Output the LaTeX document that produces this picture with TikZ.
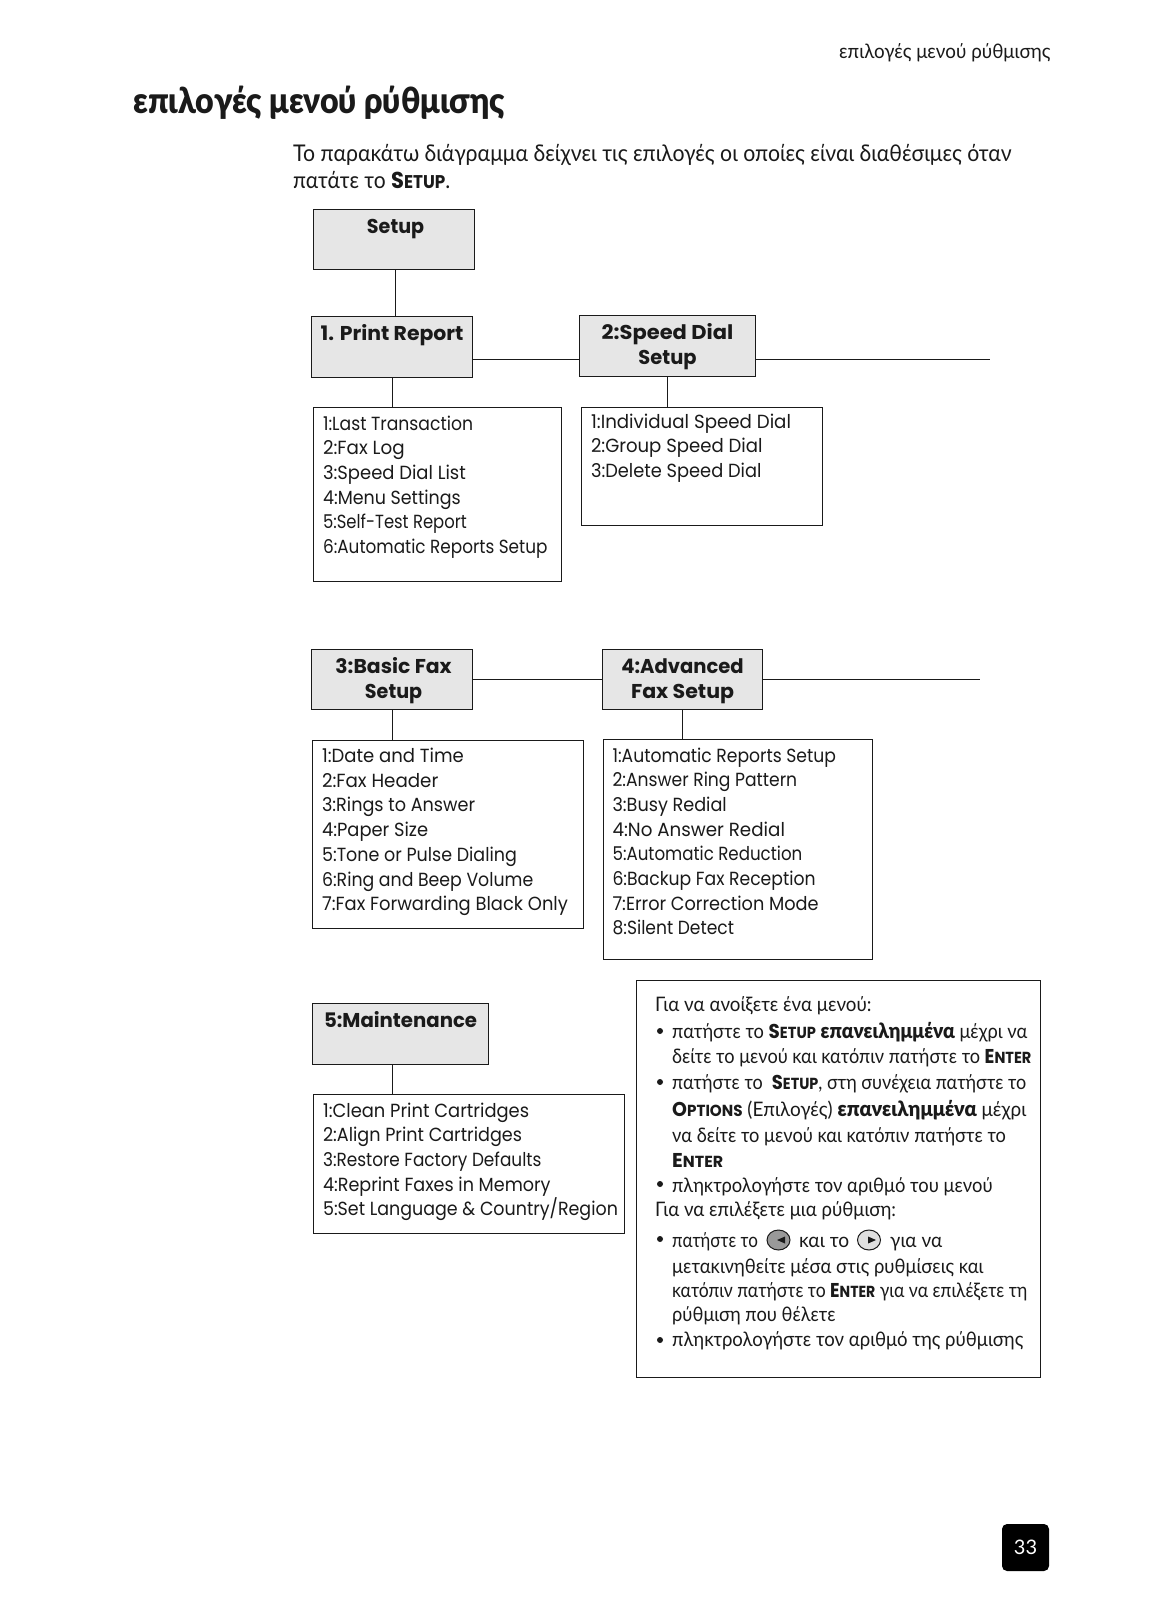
\documentclass[tikz,border=0pt]{standalone}
\usepackage{fontspec}
\setmainfont{Poppins}[FakeStretch=0.92]
\newfontfamily\gr{Lato}[BoldFont={Lato Black}]
\newfontfamily\scf{Poppins}
\usetikzlibrary{shapes.geometric}
\definecolor{boxgray}{HTML}{E6E6E6}
\definecolor{ink}{HTML}{1A1A1A}
\makeatletter
\newcommand{\SC}[2]{{\scf\bfseries #1\fontsize{\dimexpr0.8\dimexpr\f@size pt\relax\relax}{1em}\selectfont #2}}
\newcommand{\BG}[1]{{\bfseries\fontsize{\dimexpr1.06\dimexpr\f@size pt\relax\relax}{1em}\selectfont #1}}
\makeatother
% widths are measured on the 1133-wide view, hence the factor
\newcommand{\fitw}[2]{\resizebox{\dimexpr #1pt*10203/10000\relax}{\height}{#2}}
\newcommand{\hdnode}[6]{\node[headbox] (#1) at (#2,#3) {\parbox[c][#5pt][t]{#4pt}{\centering\fontsize{20}{24.6}\selectfont\bfseries\rule{0pt}{24pt}#6\par}};}
\newcommand{\lsnode}[7][22.5pt]{\node[listbox] (#2) at (#3,#4) {\parbox[c][#6pt][t]{#5pt}{\raggedright\leftskip=9.5pt\fontsize{19}{24.7}\selectfont\rule{0pt}{#1}#7\par}};}
\newcommand{\grline}[6][]{\node[grtext,#1] (#2) at (#3,#4) {\fitw{#5}{#6}};}
\tikzset{
  headbox/.style={draw=ink,fill=boxgray,line width=1.1pt,inner sep=0pt,anchor=north west,text=ink},
  listbox/.style={draw=ink,fill=white,line width=1.1pt,inner sep=0pt,anchor=north west,text=ink},
  link/.style={draw=ink,line width=1.1pt},
  grtext/.style={anchor=base west,inner sep=0pt,text=ink,font=\gr\fontsize{20}{24}\selectfont},
  titletext/.style={grtext,font=\gr\bfseries\fontsize{36}{40}\selectfont},
  introtext/.style={grtext,font=\gr\fontsize{23}{27}\selectfont},
  bulletdot/.style={circle,fill=ink,inner sep=0pt,minimum size=6pt},
  navbtn/.style={ellipse,draw=ink,line width=1pt,inner sep=0pt,minimum width=23pt,minimum height=20pt},
}
\begin{document}
\begin{tikzpicture}[x=1pt,y=-1pt]
\useasboundingbox (0,0) rectangle (1156,1600);
\fill[white] (0,0) rectangle (1156,1600);

\grline{hdr}{839}{59}{207}{επιλογές μενού ρύθμισης}
\grline[titletext]{title}{133}{114}{364}{επιλογές μενού ρύθμισης}
\grline[introtext]{intro1}{293}{161}{704}{Το παρακάτω διάγραμμα δείχνει τις επιλογές οι οποίες είναι διαθέσιμες όταν}
\grline[introtext]{intro2}{293}{188}{154}{πατάτε το \SC{S}{ETUP}.}

\hdnode{setup}{313}{209}{161}{60}{\hspace*{3pt}\fitw{56}{Setup}}
\hdnode{pr}{311}{316}{161}{60.5}{\fitw{140}{1. Print Report}}
\hdnode{sd}{579}{315}{176}{60.5}{\fitw{129}{2:Speed Dial}\\\fitw{57}{Setup}}
\hdnode{bf}{311}{649}{161}{60}{\hspace*{3pt}\fitw{114}{3:Basic Fax}\\\hspace*{3pt}\fitw{56}{Setup}}
\hdnode{af}{602}{649}{160}{60}{\fitw{120}{4:Advanced}\\\fitw{101}{Fax Setup}}
\hdnode{mt}{312}{1003}{176}{61}{\fitw{150}{5:Maintenance}}

\lsnode{l1}{313}{407}{248}{173.5}{\fitw{147}{1:Last Transaction}\\\fitw{80}{2:Fax Log}\\\fitw{140}{3:Speed Dial List}\\\fitw{135}{4:Menu Settings}\\\fitw{141}{5:Self-Test Report}\\\fitw{220}{6:Automatic Reports Setup}}
\lsnode[20.5pt]{l2}{581}{407}{240.5}{118}{\fitw{196}{1:Individual Speed Dial}\\\fitw{168}{2:Group Speed Dial}\\\fitw{167}{3:Delete Speed Dial}}
\lsnode{l3}{312}{739.5}{271}{188.5}{\fitw{139}{1:Date and Time}\\\fitw{114}{2:Fax Header}\\\fitw{150}{3:Rings to Answer}\\\fitw{104}{4:Paper Size}\\\fitw{191}{5:Tone or Pulse Dialing}\\\fitw{207}{6:Ring and Beep Volume}\\\fitw{241}{7:Fax Forwarding Black Only}}
\lsnode{l4}{602.5}{739}{269}{220}{\fitw{219}{1:Automatic Reports Setup}\\\fitw{181}{2:Answer Ring Pattern}\\\fitw{112}{3:Busy Redial}\\\fitw{169}{4:No Answer Redial}\\\fitw{186}{5:Automatic Reduction}\\\fitw{199}{6:Backup Fax Reception}\\\fitw{202}{7:Error Correction Mode}\\\fitw{119}{8:Silent Detect}}
\lsnode{l5}{313}{1094}{311}{138.5}{\fitw{202}{1:Clean Print Cartridges}\\\fitw{195}{2:Align Print Cartridges}\\\fitw{214}{3:Restore Factory Defaults}\\\fitw{223}{4:Reprint Faxes in Memory}\\\fitw{289}{5:Set Language \& Country/Region}}

\draw[link] ([xshift=1.5pt]setup.south) -- ([xshift=1.5pt]setup.south |- pr.north);
\draw[link] (pr.south) -- (pr.south |- l1.north);
\coordinate (sdend) at (990,359.5);
\draw[link] (sdend -| pr.east) -- (sdend -| sd.west);
\draw[link] (sdend -| sd.east) -- (sdend);
\draw[link] (sd.south) -- (sd.south |- l2.north);
\draw[link] (bf.south) -- (bf.south |- l3.north);
\coordinate (afend) at (980,679.5);
\draw[link] (afend -| bf.east) -- (afend -| af.west);
\draw[link] (afend -| af.east) -- (afend);
\draw[link] (af.south) -- (af.south |- l4.north);
\coordinate (mtx) at (392.5,1064);
\draw[link] (mtx) -- (mtx |- l5.north);

\node[draw=ink,fill=white,line width=1.1pt,minimum width=404pt,minimum height=397pt,inner sep=0pt,anchor=north west] (notes) at (636,980) {};

\grline{n1}{655}{1011}{212}{Για να ανοίξετε ένα μενού:}
\node[bulletdot] (b1) at (660,1031) {};
\grline{n2}{672}{1038}{348}{πατήστε το \SC{S}{ETUP} \BG{επανειλημμένα} μέχρι να}
\grline{n3}{672}{1063}{352}{δείτε το μενού και κατόπιν πατήστε το \SC{E}{NTER}}
\node[bulletdot] (b2) at (660,1082) {};
\grline{n4}{672}{1089}{347}{πατήστε το\ \ \SC{S}{ETUP}, στη συνέχεια πατήστε το}
\grline{n5}{672}{1116}{347}{\SC{O}{PTIONS} (Επιλογές) \BG{επανειλημμένα} μέχρι}
\grline{n6}{672}{1142}{327}{να δείτε το μενού και κατόπιν πατήστε το}
\grline{n7}{672}{1167}{50}{\SC{E}{NTER}}
\node[bulletdot] (b3) at (660,1184) {};
\grline{n8}{672}{1192}{314}{πληκτρολογήστε τον αριθμό του μενού}
\grline{n9}{655}{1216}{236}{Για να επιλέξετε μια ρύθμιση:}
\node[bulletdot] (b4) at (660,1239) {};
\grline{n10a}{672}{1247}{84}{πατήστε το}
\node[navbtn,fill=gray!80] (btnl) at (778.5,1240) {};
\fill[ink] (777,1240) -- (785,1236.5) -- (785,1243.5) -- cycle;
\grline{n10b}{799}{1247}{49}{και το}
\node[navbtn,fill=gray!25] (btnr) at (869,1240) {};
\fill[ink] (876,1240) -- (868,1236.5) -- (868,1243.5) -- cycle;
\grline{n10c}{890}{1247}{51}{για να}
\grline{n11}{672}{1273}{305}{μετακινηθείτε μέσα στις ρυθμίσεις και}
\grline{n12}{672}{1297}{348}{κατόπιν πατήστε το \SC{E}{NTER} για να επιλέξετε τη}
\grline{n13}{672}{1321}{160}{ρύθμιση που θέλετε}
\node[bulletdot] (b5) at (660,1340) {};
\grline{n14}{672}{1346}{344}{πληκτρολογήστε τον αριθμό της ρύθμισης}

\node[fill=black,rounded corners=5pt,minimum width=47pt,minimum height=47pt,inner sep=0pt,text=white,font=\gr\fontsize{20}{24}\selectfont] (page) at (1025.5,1547.5) {33};
\end{tikzpicture}
\end{document}
